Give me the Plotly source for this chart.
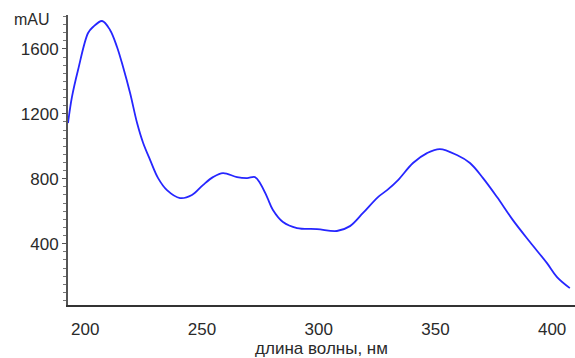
import plotly.graph_objects as go

# wavelength (nm) and absorbance (mAU)
wavelength = [192.6, 194.3, 196.9, 201.2, 203.3, 207.2, 210.6, 213.6, 216.2, 219.2,
              222.2, 224.8, 227.8, 231.2, 235.0, 240.6, 245.7, 250.4, 254.7, 259.0,
              265.0, 269.3, 272.7, 274.9, 277.9, 280.4, 284.7, 290.7, 299.3, 307.8,
              313.4, 319.0, 325.4, 329.3, 334.0, 340.4, 346.4, 351.9, 359.2, 364.8,
              370.4, 376.4, 383.2, 390.5, 397.8, 402.1, 407.6]
absorbance = [1143, 1304, 1470, 1698, 1735, 1772, 1717, 1612, 1488, 1328,
              1143, 1020, 915, 804, 730, 681, 700, 761, 810, 835,
              810, 804, 810, 773, 687, 607, 533, 496, 490, 478,
              508, 589, 687, 730, 792, 897, 958, 983, 946, 897,
              804, 687, 545, 410, 280, 194, 126]

x_ticks = [200, 250, 300, 350, 400]
y_ticks = [400, 800, 1200, 1600]

fig = go.Figure(go.Scatter(
    x=wavelength, y=absorbance, mode="lines",
    line=dict(color="#2626ff", width=1.8, shape="spline", smoothing=1.0),
    showlegend=False, hoverinfo="skip"))

font = dict(family="Liberation Sans, Arial, sans-serif", size=17, color="#2a2a2a")

fig.update_layout(
    width=575, height=358,
    margin=dict(l=68, r=0, t=15, b=53),
    paper_bgcolor="white", plot_bgcolor="white",
    font=font,
    xaxis=dict(range=[192.6, 409.8], tickvals=x_ticks, ticks="",
               showline=True, linecolor="#333333", linewidth=2,
               showgrid=False, zeroline=False, ticklabelstandoff=8,
               title=dict(text="длина волны, нм", font=font, standoff=2)),
    yaxis=dict(range=[22, 1809], tickvals=y_ticks, ticks="outside", ticklen=4,
               tickcolor="#555555", tickwidth=1,
               minor=dict(dtick=50, tick0=0, ticks="outside", ticklen=3,
                          tickcolor="#777777", tickwidth=1),
               showline=True, linecolor="#555555", linewidth=2,
               showgrid=False, zeroline=False),
    annotations=[dict(text="mAU", xref="paper", yref="paper",
                      x=(52 - 68) / 507, y=(305 - 19) / 290,
                      xanchor="right", yanchor="middle", showarrow=False,
                      font=dict(family="Liberation Sans, Arial, sans-serif",
                                size=16, color="#2a2a2a"))],
)

fig.write_html("out.html")
